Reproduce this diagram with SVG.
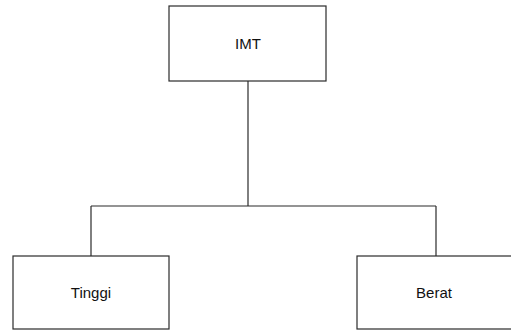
<svg xmlns="http://www.w3.org/2000/svg" width="511" height="331" viewBox="0 0 511 331">
  <style>
    .box { fill: #ffffff; stroke: #2b2b2b; stroke-width: 1.2; }
    .lbl { font-family: "Liberation Sans", Arial, sans-serif; font-size: 15px; fill: #111111; text-anchor: middle; }
    .link { fill: none; stroke: #2b2b2b; stroke-width: 1.2; }
  </style>
  <rect width="511" height="331" fill="#ffffff"/>
  <g id="connectors">
    <path class="link" d="M248 81 V206"/>
    <path class="link" d="M91 206 H436"/>
    <path class="link" d="M91 206 V256"/>
    <path class="link" d="M436 206 V256"/>
  </g>
  <g id="imt">
    <rect class="box" x="169" y="6" width="157" height="75"/>
    <text class="lbl" x="248" y="49">IMT</text>
  </g>
  <g id="tinggi">
    <rect class="box" x="13" y="256" width="156" height="73"/>
    <text class="lbl" x="91" y="298">Tinggi</text>
  </g>
  <g id="berat">
    <rect class="box" x="357" y="256" width="160" height="73"/>
    <text class="lbl" x="434" y="298">Berat</text>
  </g>
</svg>
